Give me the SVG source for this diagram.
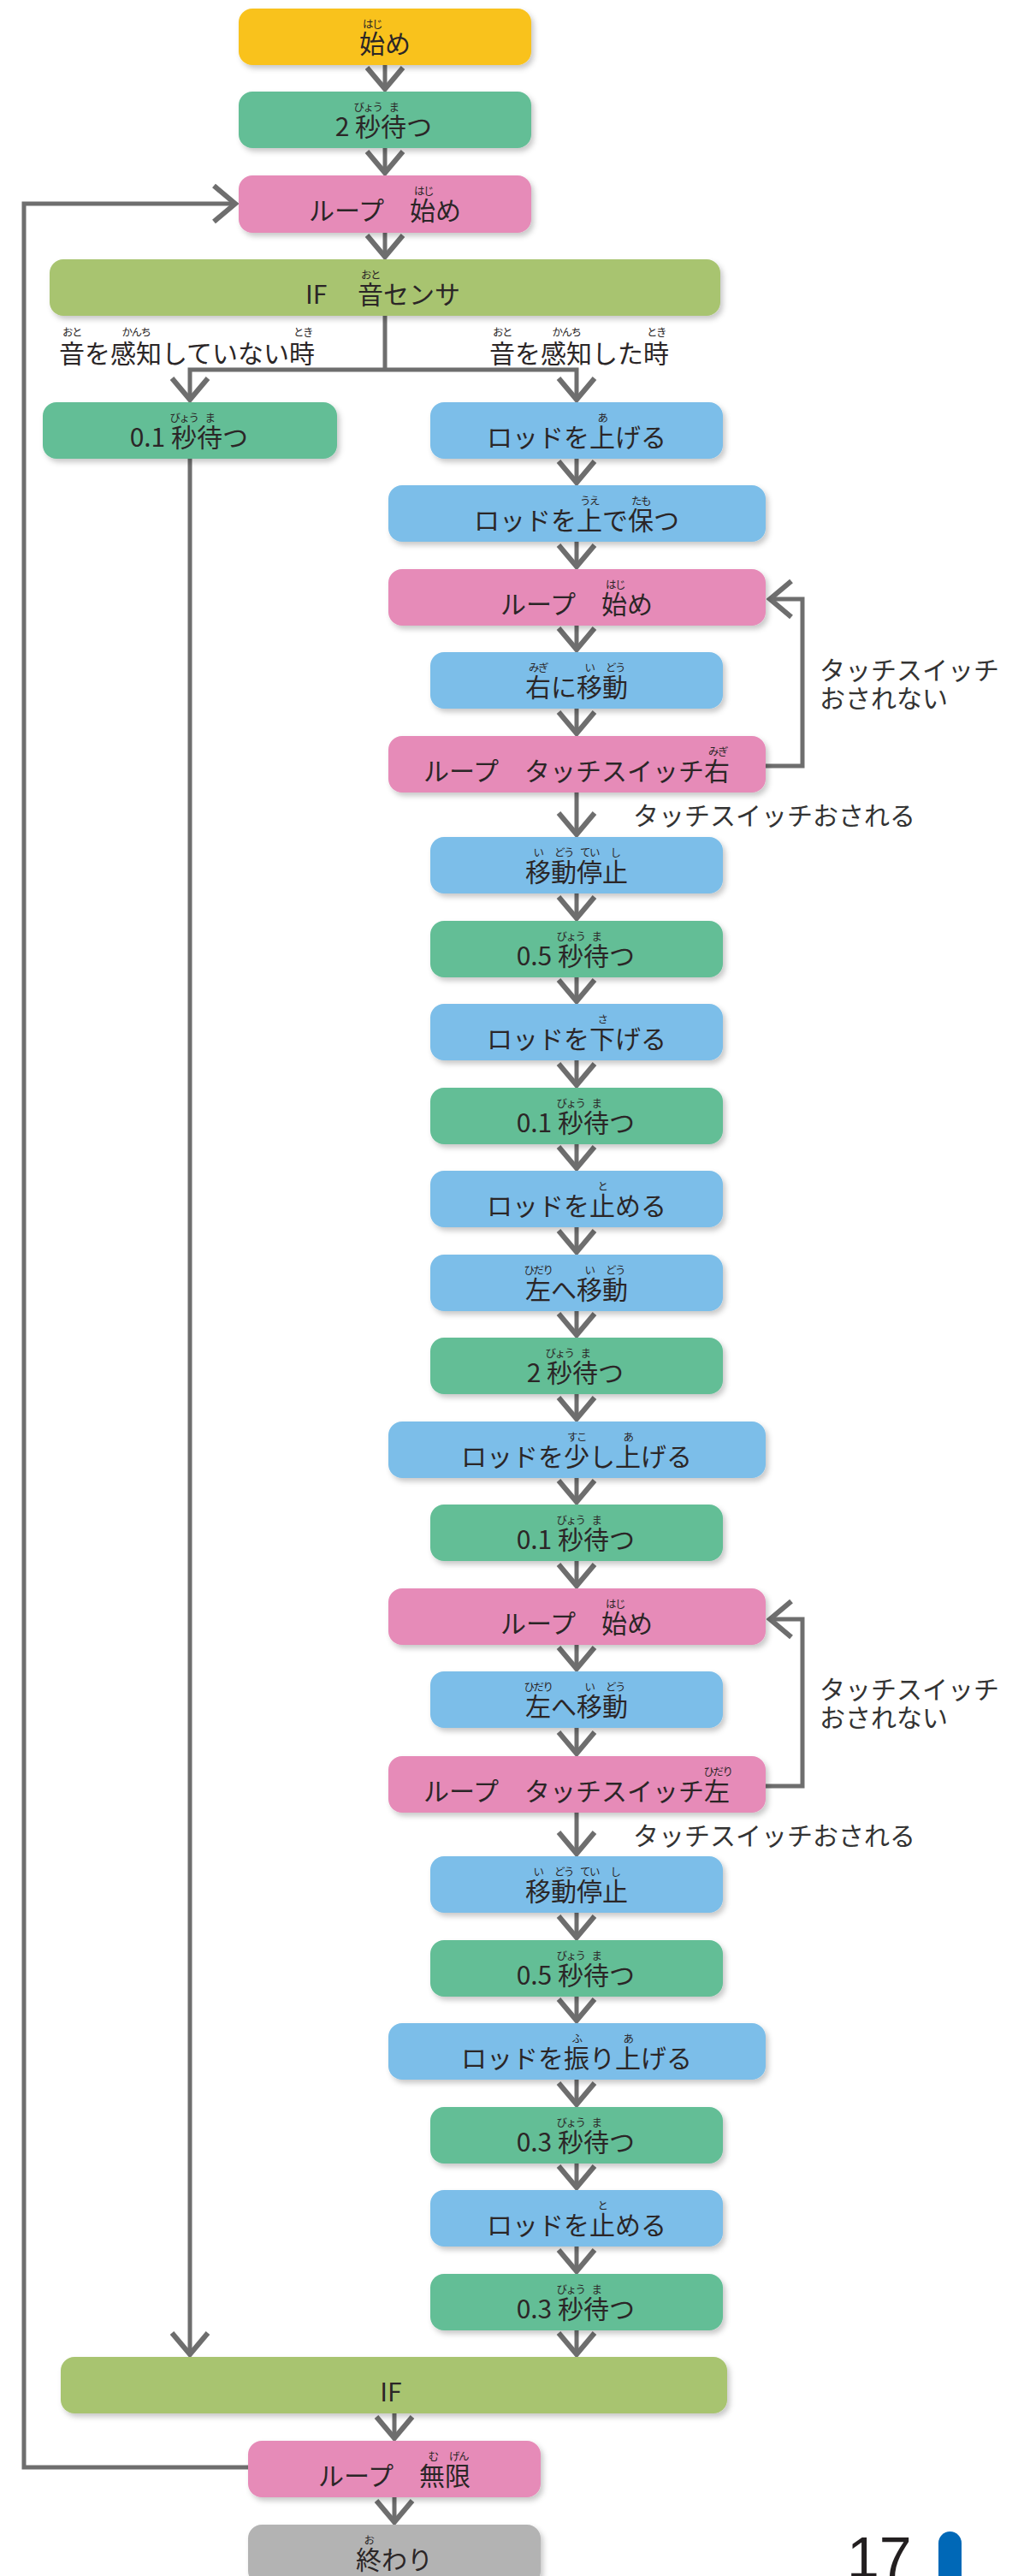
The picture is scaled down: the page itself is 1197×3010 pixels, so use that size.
<svg xmlns="http://www.w3.org/2000/svg" width="1197" height="3010" viewBox="0 0 1197 3010">
<defs>
<filter id="sh" x="-10%" y="-20%" width="125%" height="160%"><feDropShadow dx="3" dy="4" stdDeviation="3" flood-color="#000" flood-opacity="0.22"/></filter>
<marker id="chev" viewBox="-30 -25 34 50" refX="0" refY="0" markerWidth="34" markerHeight="50" markerUnits="userSpaceOnUse" orient="auto"><path d="M-25,-21 L0,0 L-25,21" fill="none" stroke="#6E6E6E" stroke-width="6"/></marker>
<style>
.bx{filter:url(#sh)}
.y{fill:#F9C21B}.g{fill:#63BE96}.p{fill:#E68BB8}.b{fill:#7CBEE9}.o{fill:#A8C46F}.k{fill:#B3B3B3}
.m{font-family:"Noto Sans CJK JP","Noto Sans",sans-serif;font-size:30px;fill:#2B2627}
.c{text-anchor:middle}
.e{text-anchor:end}
.r{font-family:"Noto Sans CJK JP","Noto Sans",sans-serif;font-size:12.5px;fill:#2B2627;text-anchor:middle;letter-spacing:-1.5px}
.ln{fill:none;stroke:#6E6E6E;stroke-width:5}
.ar{marker-end:url(#chev)}
.lb{font-family:"Noto Sans CJK JP","Noto Sans",sans-serif;font-size:30px;fill:#333}
</style>
</defs>
<rect width="1197" height="3010" fill="#fff"/>

<g id="connectors">
<path class="ln ar" d="M450,76 V104"/>
<path class="ln ar" d="M450,173 V202"/>
<path class="ln ar" d="M450,272 V300"/>
<path class="ln" d="M450,369 V432"/>
<path class="ln ar" d="M450,432 H222 V467"/>
<path class="ln ar" d="M450,432 H674 V467"/>
<path class="ln ar" d="M222,536 V2751"/>
<path class="ln ar" d="M674,536 V564"/>
<path class="ln ar" d="M674,633 V662"/>
<path class="ln ar" d="M674,731 V759"/>
<path class="ln ar" d="M674,828 V857"/>
<path class="ln ar" d="M674,926 V975"/>
<path class="ln ar" d="M674,1044 V1073"/>
<path class="ln ar" d="M674,1142 V1170"/>
<path class="ln ar" d="M674,1239 V1268"/>
<path class="ln ar" d="M674,1337 V1365"/>
<path class="ln ar" d="M674,1434 V1463"/>
<path class="ln ar" d="M674,1532 V1560"/>
<path class="ln ar" d="M674,1629 V1658"/>
<path class="ln ar" d="M674,1727 V1755"/>
<path class="ln ar" d="M674,1824 V1853"/>
<path class="ln ar" d="M674,1922 V1950"/>
<path class="ln ar" d="M674,2019 V2049"/>
<path class="ln ar" d="M674,2118 V2166"/>
<path class="ln ar" d="M674,2235 V2264"/>
<path class="ln ar" d="M674,2333 V2361"/>
<path class="ln ar" d="M674,2430 V2459"/>
<path class="ln ar" d="M674,2528 V2556"/>
<path class="ln ar" d="M674,2625 V2654"/>
<path class="ln ar" d="M674,2723 V2751"/>
<path class="ln ar" d="M461,2820 V2849"/>
<path class="ln ar" d="M461,2918 V2947"/>
<path class="ln ar" d="M895,895 H938 V700 H900"/>
<path class="ln ar" d="M895,2087 H938 V1892 H900"/>
<path class="ln ar" d="M290,2883 H28 V238 H275"/>
</g>

<g id="edge-labels">
<text class="m" x="69" y="424">音を感知していない時</text>
<text class="r" x="84" y="393">おと</text><text class="r" x="159" y="393">かんち</text><text class="r" x="354" y="393">とき</text>
<text class="m" x="572" y="424">音を感知した時</text>
<text class="r" x="587" y="393">おと</text><text class="r" x="662" y="393">かんち</text><text class="r" x="767" y="393">とき</text>
<text class="lb" x="958" y="794">タッチスイッチ</text>
<text class="lb" x="958" y="827">おされない</text>
<text class="lb" x="740" y="964">タッチスイッチおされる</text>
<text class="lb" x="958" y="1985">タッチスイッチ</text>
<text class="lb" x="958" y="2018">おされない</text>
<text class="lb" x="740" y="2156">タッチスイッチおされる</text>
</g>

<g id="n-start"><rect class="bx y" x="279" y="10" width="342" height="66" rx="16"/><text class="m c" x="450" y="62">始め</text><text class="r" x="435" y="33">はじ</text></g>
<g id="n-wait2"><rect class="bx g" x="279" y="107" width="342" height="66" rx="16"/><text class="m" y="159" xml:space="preserve"><tspan class="e" x="415">2 </tspan><tspan x="415">秒待つ</tspan></text><text class="r" x="430" y="130">びょう</text><text class="r" x="460" y="130">ま</text></g>
<g id="n-loop-main"><rect class="bx p" x="279" y="205" width="342" height="67" rx="16"/><text class="m c" x="450" y="257">ループ　始め</text><text class="r" x="495" y="228">はじ</text></g>
<g id="n-if-sound"><rect class="bx o" x="58" y="303" width="784" height="66" rx="16"/><text class="m" y="355"><tspan x="357">IF</tspan><tspan x="388">　音センサ</tspan></text><text class="r" x="433" y="326">おと</text></g>

<g id="n-wait01-left"><rect class="bx g" x="50" y="470" width="344" height="66" rx="16"/><text class="m" y="522" xml:space="preserve"><tspan class="e" x="200">0.1 </tspan><tspan x="200">秒待つ</tspan></text><text class="r" x="215" y="493">びょう</text><text class="r" x="245" y="493">ま</text></g>

<g id="n-rod-up"><rect class="bx b" x="503" y="470" width="342" height="66" rx="16"/><text class="m c" x="674" y="522">ロッドを上げる</text><text class="r" x="704" y="493">あ</text></g>
<g id="n-rod-hold"><rect class="bx b" x="454" y="567" width="441" height="66" rx="16"/><text class="m c" x="674" y="619">ロッドを上で保つ</text><text class="r" x="689" y="590">うえ</text><text class="r" x="749" y="590">たも</text></g>
<g id="n-loop1-start"><rect class="bx p" x="454" y="665" width="441" height="66" rx="16"/><text class="m c" x="674" y="717">ループ　始め</text><text class="r" x="719" y="688">はじ</text></g>
<g id="n-move-right"><rect class="bx b" x="503" y="762" width="342" height="66" rx="16"/><text class="m c" x="674" y="814">右に移動</text><text class="r" x="629" y="785">みぎ</text><text class="r" x="689" y="785">い</text><text class="r" x="719" y="785">どう</text></g>
<g id="n-loop1-end"><rect class="bx p" x="454" y="860" width="441" height="66" rx="16"/><text class="m c" x="674" y="912">ループ　タッチスイッチ右</text><text class="r" x="839" y="883">みぎ</text></g>
<g id="n-stop1"><rect class="bx b" x="503" y="978" width="342" height="66" rx="16"/><text class="m c" x="674" y="1030">移動停止</text><text class="r" x="629" y="1001">い</text><text class="r" x="659" y="1001">どう</text><text class="r" x="689" y="1001">てい</text><text class="r" x="719" y="1001">し</text></g>
<g id="n-wait05a"><rect class="bx g" x="503" y="1076" width="342" height="66" rx="16"/><text class="m" y="1128" xml:space="preserve"><tspan class="e" x="652">0.5 </tspan><tspan x="652">秒待つ</tspan></text><text class="r" x="667" y="1099">びょう</text><text class="r" x="697" y="1099">ま</text></g>
<g id="n-rod-down"><rect class="bx b" x="503" y="1173" width="342" height="66" rx="16"/><text class="m c" x="674" y="1225">ロッドを下げる</text><text class="r" x="704" y="1196">さ</text></g>
<g id="n-wait01a"><rect class="bx g" x="503" y="1271" width="342" height="66" rx="16"/><text class="m" y="1323" xml:space="preserve"><tspan class="e" x="652">0.1 </tspan><tspan x="652">秒待つ</tspan></text><text class="r" x="667" y="1294">びょう</text><text class="r" x="697" y="1294">ま</text></g>
<g id="n-rod-stop1"><rect class="bx b" x="503" y="1368" width="342" height="66" rx="16"/><text class="m c" x="674" y="1420">ロッドを止める</text><text class="r" x="704" y="1391">と</text></g>
<g id="n-move-left1"><rect class="bx b" x="503" y="1466" width="342" height="66" rx="16"/><text class="m c" x="674" y="1518">左へ移動</text><text class="r" x="629" y="1489">ひだり</text><text class="r" x="689" y="1489">い</text><text class="r" x="719" y="1489">どう</text></g>
<g id="n-wait2b"><rect class="bx g" x="503" y="1563" width="342" height="66" rx="16"/><text class="m" y="1615" xml:space="preserve"><tspan class="e" x="639">2 </tspan><tspan x="639">秒待つ</tspan></text><text class="r" x="654" y="1586">びょう</text><text class="r" x="684" y="1586">ま</text></g>
<g id="n-rod-up-little"><rect class="bx b" x="454" y="1661" width="441" height="66" rx="16"/><text class="m c" x="674" y="1713">ロッドを少し上げる</text><text class="r" x="674" y="1684">すこ</text><text class="r" x="734" y="1684">あ</text></g>
<g id="n-wait01b"><rect class="bx g" x="503" y="1758" width="342" height="66" rx="16"/><text class="m" y="1810" xml:space="preserve"><tspan class="e" x="652">0.1 </tspan><tspan x="652">秒待つ</tspan></text><text class="r" x="667" y="1781">びょう</text><text class="r" x="697" y="1781">ま</text></g>
<g id="n-loop2-start"><rect class="bx p" x="454" y="1856" width="441" height="66" rx="16"/><text class="m c" x="674" y="1908">ループ　始め</text><text class="r" x="719" y="1879">はじ</text></g>
<g id="n-move-left2"><rect class="bx b" x="503" y="1953" width="342" height="66" rx="16"/><text class="m c" x="674" y="2005">左へ移動</text><text class="r" x="629" y="1976">ひだり</text><text class="r" x="689" y="1976">い</text><text class="r" x="719" y="1976">どう</text></g>
<g id="n-loop2-end"><rect class="bx p" x="454" y="2052" width="441" height="66" rx="16"/><text class="m c" x="674" y="2104">ループ　タッチスイッチ左</text><text class="r" x="839" y="2075">ひだり</text></g>
<g id="n-stop2"><rect class="bx b" x="503" y="2169" width="342" height="66" rx="16"/><text class="m c" x="674" y="2221">移動停止</text><text class="r" x="629" y="2192">い</text><text class="r" x="659" y="2192">どう</text><text class="r" x="689" y="2192">てい</text><text class="r" x="719" y="2192">し</text></g>
<g id="n-wait05b"><rect class="bx g" x="503" y="2267" width="342" height="66" rx="16"/><text class="m" y="2319" xml:space="preserve"><tspan class="e" x="652">0.5 </tspan><tspan x="652">秒待つ</tspan></text><text class="r" x="667" y="2290">びょう</text><text class="r" x="697" y="2290">ま</text></g>
<g id="n-rod-swing"><rect class="bx b" x="454" y="2364" width="441" height="66" rx="16"/><text class="m c" x="674" y="2416">ロッドを振り上げる</text><text class="r" x="674" y="2387">ふ</text><text class="r" x="734" y="2387">あ</text></g>
<g id="n-wait03a"><rect class="bx g" x="503" y="2462" width="342" height="66" rx="16"/><text class="m" y="2514" xml:space="preserve"><tspan class="e" x="652">0.3 </tspan><tspan x="652">秒待つ</tspan></text><text class="r" x="667" y="2485">びょう</text><text class="r" x="697" y="2485">ま</text></g>
<g id="n-rod-stop2"><rect class="bx b" x="503" y="2559" width="342" height="66" rx="16"/><text class="m c" x="674" y="2611">ロッドを止める</text><text class="r" x="704" y="2582">と</text></g>
<g id="n-wait03b"><rect class="bx g" x="503" y="2657" width="342" height="66" rx="16"/><text class="m" y="2709" xml:space="preserve"><tspan class="e" x="652">0.3 </tspan><tspan x="652">秒待つ</tspan></text><text class="r" x="667" y="2680">びょう</text><text class="r" x="697" y="2680">ま</text></g>

<g id="n-if-end"><rect class="bx o" x="71" y="2754" width="779" height="66" rx="16"/><text class="m c" x="457" y="2806">IF</text></g>
<g id="n-loop-infinite"><rect class="bx p" x="290" y="2852" width="342" height="66" rx="16"/><text class="m c" x="461" y="2904">ループ　無限</text><text class="r" x="506" y="2875">む</text><text class="r" x="536" y="2875">げん</text></g>
<g id="n-end"><rect class="bx k" x="290" y="2950" width="342" height="70" rx="16"/><text class="m c" x="461" y="3002">終わり</text><text class="r" x="431" y="2973">お</text></g>

<g id="page-number">
<text x="990" y="3012" font-family="Liberation Sans, Arial, sans-serif" font-size="68" fill="#231F20">17</text>
<rect x="1097" y="2958" width="27" height="80" rx="13.5" fill="#0068B7"/>
</g>
</svg>
